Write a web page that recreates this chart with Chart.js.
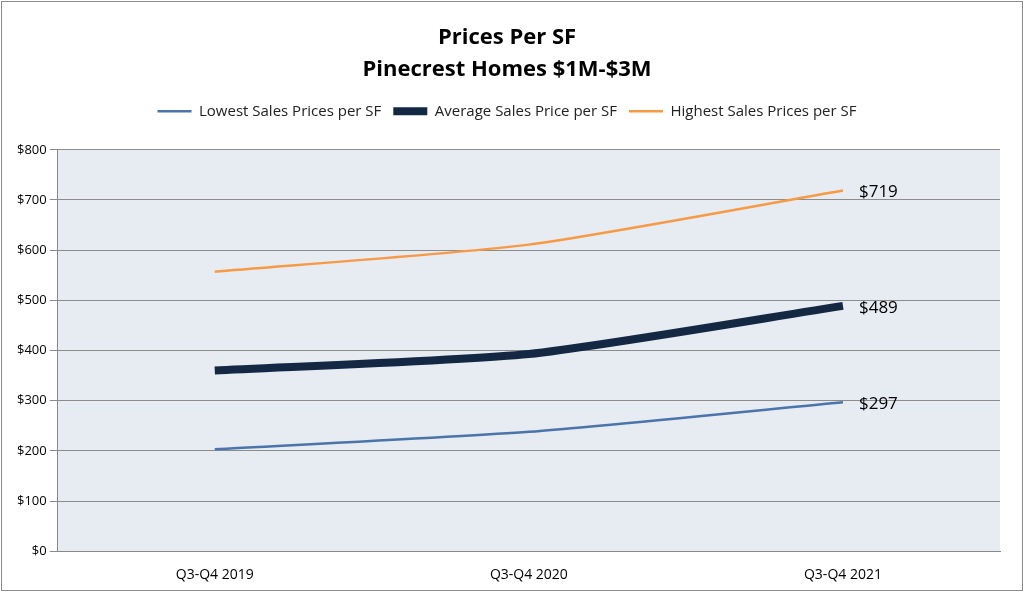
<!DOCTYPE html>
<html>
<head>
<script src="https://cdn.jsdelivr.net/npm/chart.js@4"></script>
<style>
body { margin: 0; background: #fff; }
#wrap { position: absolute; left: 1px; top: 1px; width: 1020px; height: 588px; border: 1px solid #8c8c8c; }
</style>
</head>
<body>
<div id="wrap"><canvas id="chart" width="1020" height="588"></canvas></div>
<script>
'use strict';

const periods = ['Q3-Q4 2019', 'Q3-Q4 2020', 'Q3-Q4 2021'];
const lowest = [203, 238, 297];
const average = [360, 393, 489];
const highest = [557, 611, 719];
const yTicks = [0, 100, 200, 300, 400, 500, 600, 700, 800];

let canvasElem = document.getElementById('chart');

// shade the plot area, leave room under the legend, write the last value next to each line
const extras = {
    id: 'extras',
    beforeLayout(chart) {
        const lg = chart.legend;
        if (lg && !lg._padded) {
            const fit = lg.fit.bind(lg);
            lg.fit = function () { fit(); this.height += 21; };
            lg._padded = true;
        }
    },
    beforeDraw(chart) {
        const a = chart.chartArea;
        const ctx = chart.ctx;
        ctx.save();
        ctx.fillStyle = '#e7ebf2';
        ctx.fillRect(a.left, a.top, a.right - a.left, a.bottom - a.top);
        ctx.restore();
    },
    afterDatasetsDraw(chart) {
        const ctx = chart.ctx;
        ctx.save();
        ctx.font = '17px "Open Sans", sans-serif';
        ctx.fillStyle = '#000';
        ctx.textBaseline = 'middle';
        chart.data.datasets.forEach((ds, i) => {
            const pts = chart.getDatasetMeta(i).data;
            const p = pts[pts.length - 1];
            ctx.fillText('$' + ds.data[ds.data.length - 1], p.x + 16, p.y + 2);
        });
        ctx.restore();
    }
};

function renderChart() {
    let chart = {
        type: 'line',
        data: {
            labels: periods,
            datasets: [
                { label: 'Lowest Sales Prices per SF', data: lowest, borderColor: '#4a74aa', borderWidth: 2.5, tension: 0.2 },
                { label: 'Average Sales Price per SF', data: average, borderColor: '#142844', borderWidth: 8, tension: 0.2 },
                { label: 'Highest Sales Prices per SF', data: highest, borderColor: '#f79a46', borderWidth: 2.5, tension: 0.2 }
            ]
        },
        options: {
            responsive: false,
            animation: false,
            layout: { padding: { left: 12, right: 22, bottom: 0 } },
            elements: { point: { radius: 0 } },
            plugins: {
                title: {
                    display: true,
                    text: ['Prices Per SF', 'Pinecrest Homes $1M-$3M'],
                    color: '#000',
                    font: { family: '"Open Sans", sans-serif', size: 22, weight: 'bold', lineHeight: 1.45 },
                    padding: { top: 20, bottom: 6 }
                },
                legend: {
                    labels: {
                        usePointStyle: true,
                        pointStyle: 'line',
                        pointStyleWidth: 34,
                        color: '#222',
                        font: { family: '"Open Sans", sans-serif', size: 15 },
                        padding: 12
                    }
                },
                tooltip: { enabled: false }
            },
            scales: {
                x: {
                    offset: true,
                    grid: { display: false },
                    border: { color: '#888' },
                    ticks: { color: '#000', font: { family: '"Open Sans", sans-serif', size: 14 }, padding: 7 }
                },
                y: {
                    min: 0,
                    max: 800,
                    afterBuildTicks: (axis) => { axis.ticks = yTicks.map(v => ({ value: v })); },
                    grid: { color: '#8c8c8c', lineWidth: 1 },
                    border: { color: '#888' },
                    ticks: { color: '#000', font: { family: '"Open Sans", sans-serif', size: 13 }, callback: v => '$' + v }
                }
            }
        },
        plugins: [extras]
    };
    new Chart(canvasElem, chart);
}

renderChart();
</script>
</body>
</html>
